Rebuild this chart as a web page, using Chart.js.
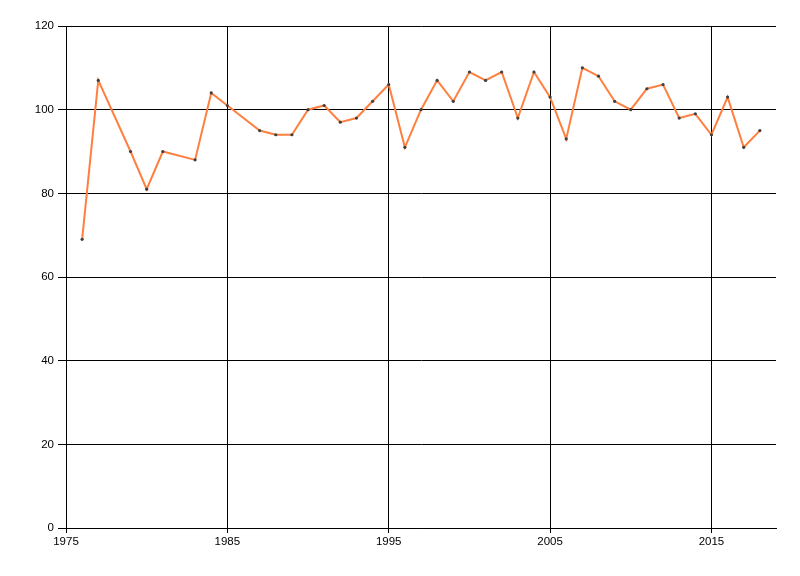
<!DOCTYPE html>
<html>
<head>
<meta charset="utf-8">
<script src="https://cdn.jsdelivr.net/npm/chart.js@4"></script>
<style>
html,body{margin:0;padding:0;background:#fff;}
#wrap{width:800px;height:576px;}
</style>
</head>
<body>
<div id="wrap"><canvas id="c" width="800" height="576"></canvas></div>
<script>
const years = [1976,1977,1979,1980,1981,1983,1984,1985,1987,1988,1989,
  1990,1991,1992,1993,1994,1995,1996,1997,1998,1999,2000,2001,2002,2003,2004,
  2005,2006,2007,2008,2009,2010,2011,2012,2013,2014,2015,2016,2017,2018];
const values = [69,107,90,81,90,88,104,101,95,94,94,
  100,101,97,98,102,106,91,100,107,102,109,107,109,98,109,
  103,93,110,108,102,100,105,106,98,99,94,103,91,95];
const xTickValues = [1975,1985,1995,2005,2015];
const yTickValues = [0,20,40,60,80,100,120];

const points = years.map((y,i)=>({x:y,y:values[i]}));
const font = {family:'"Liberation Sans", Arial, sans-serif', size:11.5};

new Chart(document.getElementById('c'), {
  type:'line',
  data:{datasets:[{
    data:points,
    borderColor:'#ff7f3f',
    borderWidth:2,
    pointRadius:1.6,
    pointBackgroundColor:'#404040',
    pointBorderWidth:0,
    pointHoverRadius:1.6,
    tension:0
  }]},
  options:{
    responsive:false,
    animation:false,
    devicePixelRatio:1,
    layout:{padding:{top:26,right:24,bottom:28,left:0}},
    plugins:{legend:{display:false},tooltip:{enabled:false}},
    scales:{
      x:{
        type:'linear', min:1975, max:2019,
        afterBuildTicks:(s)=>{s.ticks = xTickValues.map(v=>({value:v}));},
        afterFit:(s)=>{s.height = 20;},
        ticks:{color:'#000', font, padding:2, maxRotation:0, autoSkip:false,
          callback:(v)=>String(v)},
        grid:{color:'#000', lineWidth:1, tickLength:5, drawOnChartArea:true},
        border:{color:'#000', width:1}
      },
      y:{
        type:'linear', min:0, max:120,
        afterBuildTicks:(s)=>{s.ticks = yTickValues.map(v=>({value:v}));},
        afterFit:(s)=>{s.width = 66;},
        ticks:{color:'#000', font, padding:4},
        grid:{color:'#000', lineWidth:1, tickLength:8},
        border:{color:'#000', width:1}
      }
    }
  }
});
</script>
</body>
</html>
